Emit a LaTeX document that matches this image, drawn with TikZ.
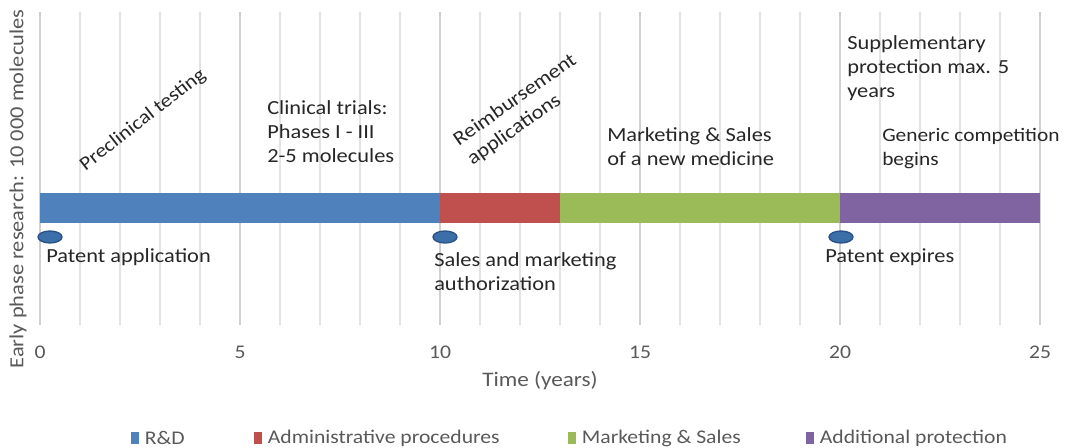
\documentclass[tikz,border=0pt]{standalone}
\usepackage{fontspec}
\setmainfont[FakeStretch=1.12]{Carlito}
\usetikzlibrary{positioning,shapes.geometric}

\definecolor{rdblue}{HTML}{4F81BD}
\definecolor{admred}{HTML}{C0504D}
\definecolor{mktgreen}{HTML}{9BBB59}
\definecolor{protpurple}{HTML}{8064A2}
\definecolor{gridgray}{HTML}{E3E3E3}
\definecolor{majorgray}{HTML}{D0D0D0}
\definecolor{axisgray}{HTML}{595959}
\definecolor{stonefill}{HTML}{3C6EA8}
\definecolor{stoneline}{HTML}{2A5286}

\begin{document}
\begin{tikzpicture}[x=0.75pt, y=-0.75pt, font=\fontsize{15}{18}\selectfont,
		note/.style={align=left, anchor=base west, inner sep=0pt, text=black!85},
		slanted/.style={align=left, inner sep=0pt, text=black!85},
		milestone/.style={draw=stoneline, fill=stonefill, ellipse, line width=1pt, minimum width=18pt, minimum height=9pt, inner sep=0pt},
		axislabel/.style={text=axisgray, font=\fontsize{14.5}{16}\selectfont, inner sep=0pt},
		legendbox/.style={minimum width=6pt, minimum height=9pt, inner sep=0pt},
		legendtext/.style={text=axisgray, font=\fontsize{14.5}{16}\selectfont, inner sep=0pt, anchor=west}]
		\useasboundingbox (0,0) rectangle (1065,447);
		
		\foreach \yr in {0,...,25}
			\draw[gridgray, line width=0.8pt] ({40+40*\yr},12) -- ({40+40*\yr},325);
		\foreach \yr in {0,5,...,25}
			\draw[majorgray, line width=0.8pt] ({40+40*\yr},12) -- ({40+40*\yr},325);
		
		\fill[rdblue] (40,193) rectangle (440,223);
		\fill[admred] (440,193) rectangle (560,223);
		\fill[mktgreen] (560,193) rectangle (840,223);
		\fill[protpurple] (840,193) rectangle (1040,223);
		
		\foreach \yr in {0,5,...,25}
			\node[axislabel] (tick\yr) at ({40+40*\yr},352) {\yr};
		\node[axislabel, font=\fontsize{15.5}{17}\selectfont] (xlab) at (540,381) {Time (years)};
		\node[axislabel, font=\fontsize{15}{17}\selectfont, rotate=90] (ylab) at (18,189) {Early phase research: 10 000 molecules};
		
		\node[milestone] (patapp) at (50,237) {};
		\node[milestone] (salesauth) at (445,237) {};
		\node[milestone] (patexp) at (841,237) {};
		
		\node[note] (patapptext) at (46,262) {Patent application};
		\node[note] (salesauthtext) at (434,290) {Sales and marketing\\authorization};
		\node[note] (patexptext) at (825,262) {Patent expires};
		
		\node[slanted, rotate=38, font=\fontsize{14.5}{18}\selectfont] (preclin) at (143,120) {Preclinical testing};
		\node[note] (clintrials) at (267,162) {Clinical trials:\\Phases I - III\\2-5 molecules};
		\node[slanted, rotate=35] (reimb) at (522,110) {Reimbursement\\applications};
		\node[note] (mktsales) at (607,165) {Marketing \& Sales\\of a new medicine};
		\node[note] (supprot) at (847,97) {Supplementary\\protection max. 5\\years};
		\node[note, font=\fontsize{14.3}{18}\selectfont] (generic) at (882,165) {Generic competition\\begins};
		
		\node[legendbox, fill=rdblue] (legrd) at (135,438) {};
		\node[legendtext, right=4pt of legrd] (legrdtext) {R\&D};
		\node[legendbox, fill=admred] (legadm) at (258,438) {};
		\node[legendtext, right=4pt of legadm] (legadmtext) {Administrative procedures};
		\node[legendbox, fill=mktgreen] (legmkt) at (572,438) {};
		\node[legendtext, right=4pt of legmkt] (legmkttext) {Marketing \& Sales};
		\node[legendbox, fill=protpurple] (legprot) at (810,438) {};
		\node[legendtext, right=4pt of legprot] (legprottext) {Additional protection};
	\end{tikzpicture}
\end{document}
